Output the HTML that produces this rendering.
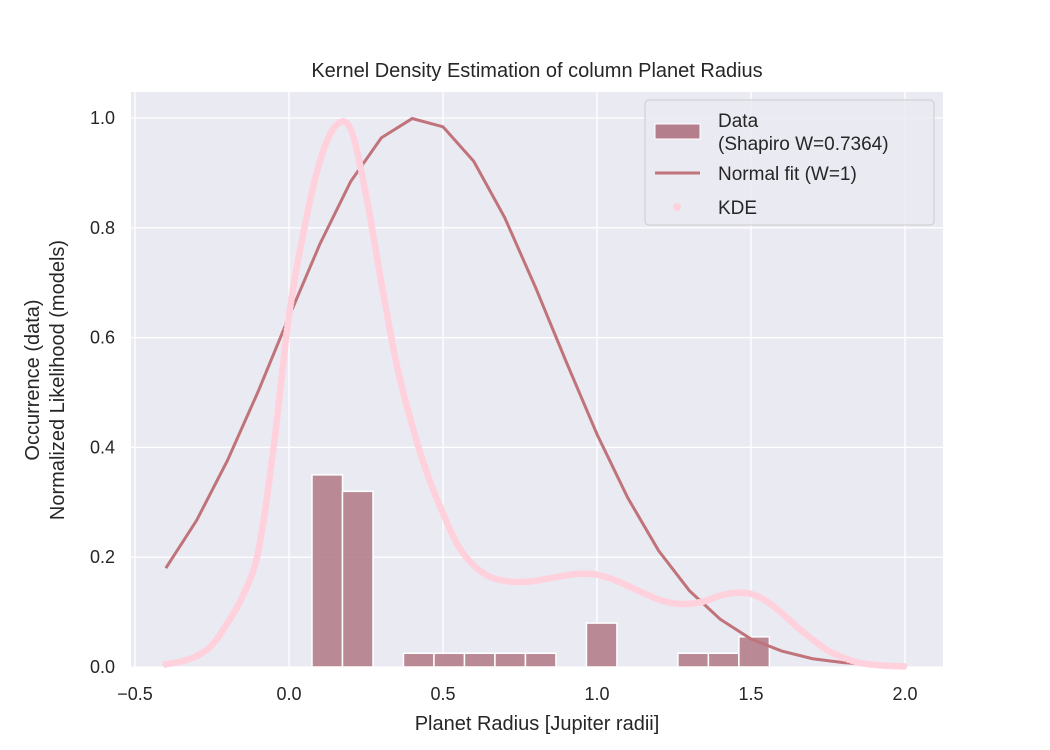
<!DOCTYPE html>
<html><head><meta charset="utf-8"><style>
body{margin:0;background:#fff}
svg{display:block;font-family:"Liberation Sans",sans-serif}
</style></head><body>
<svg id="chart" width="1050" height="750">
<rect x="131" y="92" width="812" height="575" fill="#eaeaf2"/>
<g id="grid"></g>
<g id="bars"></g>
<g id="lines"></g>
<g id="ticks" font-size="18" fill="#262626"></g>
<text x="537" y="77" font-size="20" text-anchor="middle" fill="#262626">Kernel Density Estimation of column Planet Radius</text>
<text x="537" y="730" font-size="20" text-anchor="middle" fill="#262626">Planet Radius [Jupiter radii]</text>
<text transform="translate(39,380) rotate(-90)" font-size="20" text-anchor="middle" fill="#262626"><tspan x="0" dy="0">Occurrence (data)</tspan><tspan x="0" dy="25">Normalized Likelihood (models)</tspan></text>
<g>
<rect x="645" y="100" width="289" height="125" rx="4" fill="#eaeaf2" fill-opacity="0.8" stroke="#cccccc"/>
<rect x="655" y="124" width="45" height="15" fill="#b47e8c" stroke="#fff"/>
<text x="718" y="127" font-size="19" fill="#262626">Data</text>
<text x="718" y="150" font-size="19" fill="#262626">(Shapiro W=0.7364)</text>
<line x1="655" y1="173" x2="700" y2="173" stroke="#c0737a" stroke-width="3"/>
<text x="718" y="180" font-size="19" fill="#262626">Normal fit (W=1)</text>
<circle cx="677" cy="207" r="4" fill="#ffd1dc"/>
<text x="718" y="214" font-size="19" fill="#262626">KDE</text>
</g>
</svg>
<script>
const xTicks=[-0.5,0,0.5,1.0,1.5,2.0];
const xTickLabels=["−0.5","0.0","0.5","1.0","1.5","2.0"];
const yTicks=[0,0.2,0.4,0.6,0.8,1.0];
const yTickLabels=["0.0","0.2","0.4","0.6","0.8","1.0"];
const binStart=0.0747, binWidth=0.099;
const binCounts=[0.35,0.32,0,0.025,0.025,0.025,0.025,0.025,0,0.08,0,0,0.025,0.025,0.055];
const normX=[-0.4,-0.3,-0.2,-0.1,0,0.1,0.2,0.3,0.4,0.5,0.6,0.7,0.8,0.9,1.0,1.1,1.2,1.3,1.4,1.5,1.6,1.7,1.8,1.9,2.0];
const normY=[0.18,0.267,0.376,0.502,0.638,0.77,0.884,0.964,0.999,0.984,0.921,0.819,0.692,0.556,0.424,0.308,0.212,0.139,0.087,0.051,0.029,0.015,0.008,0.004,0.002];
const kdeX0=-0.4, kdeStep=0.05;
const kdeY=[0.005,0.01,0.02,0.04,0.08,0.13,0.21,0.4,0.64,0.8,0.92,0.985,0.98,0.86,0.7,0.55,0.44,0.35,0.28,0.22,0.185,0.165,0.157,0.155,0.157,0.162,0.167,0.17,0.168,0.16,0.148,0.135,0.123,0.116,0.115,0.12,0.13,0.135,0.133,0.12,0.098,0.073,0.05,0.03,0.017,0.008,0.004,0.002,0.001];
const NS="http://www.w3.org/2000/svg";
const X=v=>289+v*308, Y=v=>667-v*549;
function mk(tag,attrs,parent){const e=document.createElementNS(NS,tag);for(const k in attrs)e.setAttribute(k,attrs[k]);document.getElementById(parent).appendChild(e);return e;}
function smooth(pts){let d='M'+pts[0][0]+','+pts[0][1];for(let i=0;i<pts.length-1;i++){const p0=pts[Math.max(0,i-1)],p1=pts[i],p2=pts[i+1],p3=pts[Math.min(pts.length-1,i+2)];d+='C'+(p1[0]+(p2[0]-p0[0])/6)+','+(p1[1]+(p2[1]-p0[1])/6)+' '+(p2[0]-(p3[0]-p1[0])/6)+','+(p2[1]-(p3[1]-p1[1])/6)+' '+p2[0]+','+p2[1];}return d;}
xTicks.forEach((t,i)=>{
 const g=mk('line',{x1:X(t),x2:X(t),y1:92,y2:667,stroke:'#fff','stroke-width':1.3},'grid');
 
 
 const l=mk('text',{x:X(t),y:700,'text-anchor':'middle'},'ticks');l.textContent=xTickLabels[i];
 
 
});
yTicks.forEach((t,i)=>{
 const g=mk('line',{x1:131,x2:943,y1:Y(t),y2:Y(t),stroke:'#fff','stroke-width':1.3},'grid');
 
 
 const l=mk('text',{x:115,y:Y(t)+6,'text-anchor':'end'},'ticks');l.textContent=yTickLabels[i];
 
 
});
binCounts.forEach((c,i)=>{ if(c<=0)return;
 const x0=X(binStart+i*binWidth), x1=X(binStart+(i+1)*binWidth);
 const b=mk('rect',{x:x0,y:Y(c),width:x1-x0,height:Y(0)-Y(c),fill:'#b47e8c','fill-opacity':0.9,stroke:'#fff','stroke-width':1.5},'bars');
 
 
});
const np=mk('path',{d:normX.map((x,i)=>(i?'L':'M')+X(x)+','+Y(normY[i])).join(''),fill:'none',stroke:'#c0737a','stroke-width':3},'lines');


const kp=mk('path',{d:smooth(kdeY.map((y,i)=>[X(kdeX0+i*kdeStep),Y(y)])),fill:'none',stroke:'#ffd1dc','stroke-width':7,'stroke-linecap':'round','stroke-dasharray':'0 4'},'lines');


</script>
</body></html>
